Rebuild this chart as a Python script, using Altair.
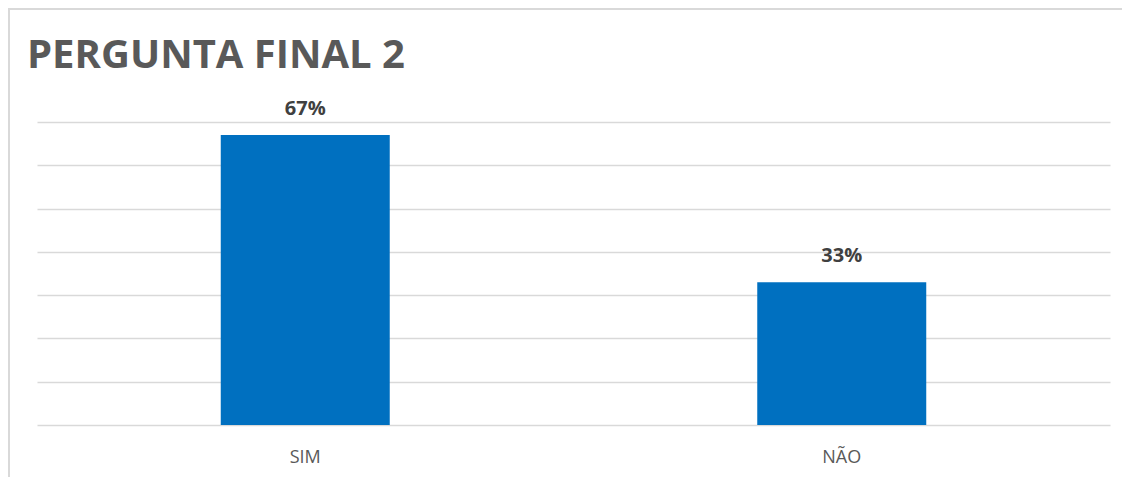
import altair as alt
import pandas as pd

categories = ["SIM", "NÃO"]
values = [0.67, 0.33]
labels = ["67%", "33%"]
title_text = ["PERGUNTA FINAL 2"]

df = pd.DataFrame({"cat": categories, "val": values, "lab": labels})
tdf = pd.DataFrame({"t": title_text})

FONT = "Open Sans"

x = alt.X("cat:N", sort=categories, title=None,
          scale=alt.Scale(paddingInner=0.685, paddingOuter=0.3425),
          axis=alt.Axis(labelAngle=0, ticks=False, domain=False, labelPadding=23,
                        labelFont=FONT, labelFontSize=18, labelColor="#595959", grid=False))
y = alt.Y("val:Q", title=None,
          scale=alt.Scale(domain=[0, 0.7], nice=False),
          axis=alt.Axis(values=[0, 0.1, 0.2, 0.3, 0.4, 0.5, 0.6, 0.7], labels=False, ticks=False,
                        domain=False, grid=True, gridColor="#d9d9d9", gridWidth=1.5))

bars = alt.Chart(df).mark_bar(color="#0070C0").encode(x=x, y=y)
text = alt.Chart(df).mark_text(font=FONT, fontSize=20, fontWeight="bold", color="#404040",
                               baseline="bottom", dy=-16).encode(
    x=alt.X("cat:N", sort=categories), y="val:Q", text="lab:N")

title = alt.Chart(tdf).mark_text(font=FONT, fontSize=40, fontWeight="bold", color="#595959",
                                 align="left", baseline="alphabetic", clip=False).encode(
    x=alt.value(-10), y=alt.value(-54), text="t:N")

border_top = alt.Chart(df).mark_rule(color="#d9d9d9", strokeWidth=2, clip=False).encode(
    x=alt.value(-30), x2=alt.value(1090), y=alt.value(-113))
border_left = alt.Chart(df).mark_rule(color="#d9d9d9", strokeWidth=2, clip=False).encode(
    x=alt.value(-28), y=alt.value(-113), y2=alt.value(380))

chart = alt.layer(border_top, border_left, bars, text, title).properties(
    width=1073, height=303,
    autosize=alt.AutoSizeParams(type="none"),
    padding={"left": 29, "top": 114, "right": 12, "bottom": 52},
).configure(background="white").configure_view(stroke=None, strokeWidth=0)

chart.save("out.html", embed_options={"renderer": "svg", "actions": False})
